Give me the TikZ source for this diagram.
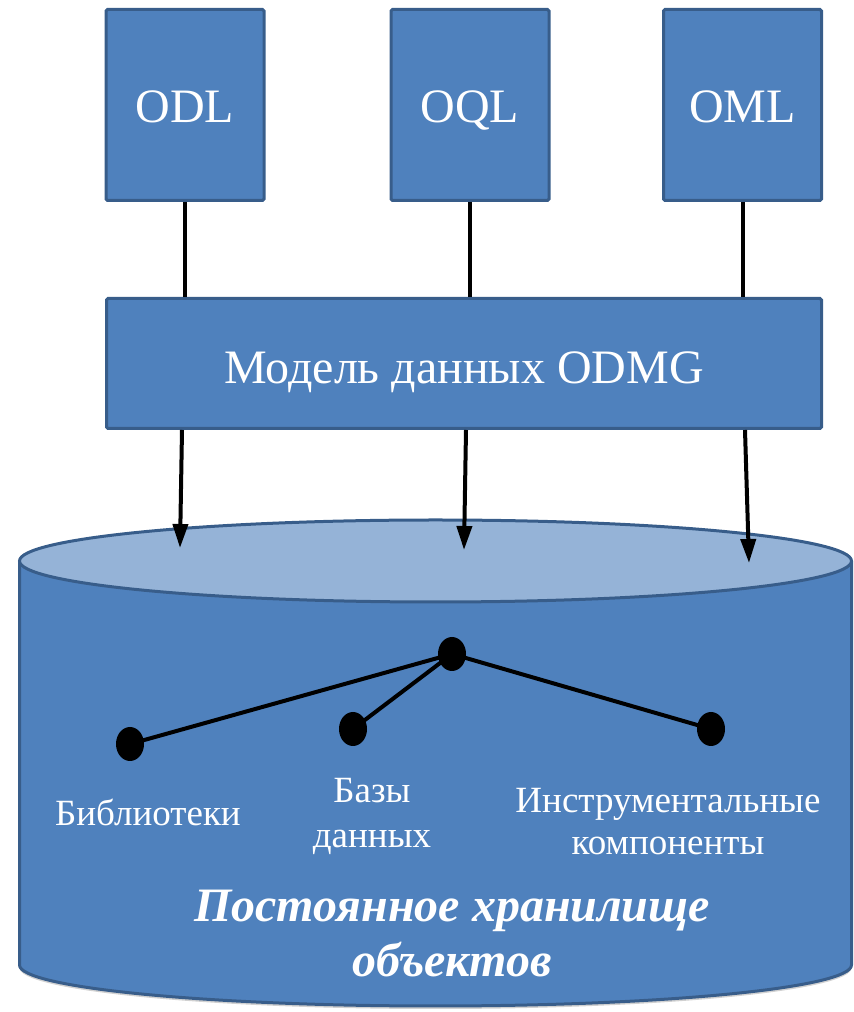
\documentclass[tikz,border=0pt]{standalone}
\usepackage{fontspec}
\setmainfont{Liberation Serif}
\usetikzlibrary{arrows.meta,shapes.geometric}
\definecolor{boxblue}{HTML}{4F81BD}
\definecolor{edgeblue}{HTML}{385D8A}
\definecolor{topblue}{HTML}{95B3D7}
\begin{document}
\begin{tikzpicture}[x=1pt,y=1pt,
  langbox/.style={draw=edgeblue, line width=3pt, fill=boxblue, rounded corners=1.5pt,
    minimum width=158pt, minimum height=191pt, text=white, inner sep=0pt,
    text height=36pt, text depth=0pt,
    font=\fontsize{48}{56}\selectfont},
  modelbox/.style={langbox, minimum width=715pt, minimum height=130pt, text height=41pt},
  link/.style={line width=4pt, black},
  flow/.style={line width=4pt, black, -{Triangle[width=15pt,length=24pt]}},
  dot/.style={ellipse, fill=black, minimum width=28pt, minimum height=34pt, inner sep=0pt},
  part/.style={text=white, align=center, inner sep=0pt, font=\fontsize{37}{44}\selectfont},
  title/.style={text=white, align=center, inner sep=0pt, font=\fontsize{48}{55}\selectfont\bfseries\itshape}
]
\useasboundingbox (0,0) rectangle (854,1012);

% boxes
\node[langbox] (odl) at (185,907) {ODL};
\node[langbox] (oql) at (470,907) {OQL};
\node[langbox] (oml) at (742.5,907) {OML};
\node[modelbox] (odmg) at (464,648.5) {Модель данных ODMG};

% cylinder
\fill[black, opacity=0.18] (19.5,448) -- (19.5,44) arc[start angle=180,end angle=360,x radius=416,y radius=41] -- (851.5,448) -- cycle;
\draw[edgeblue, line width=3pt, fill=boxblue] (19.5,451) -- (19.5,47) arc[start angle=180,end angle=360,x radius=416,y radius=41] -- (851.5,451);
\draw[edgeblue, line width=3pt, fill=topblue] (435.5,451) ellipse[x radius=416, y radius=41];

% connectors
\draw[link] (odl.south) -- (odl.south |- odmg.north);
\draw[link] (oql.south) -- (oql.south |- odmg.north);
\draw[link] (oml.south) -- (oml.south |- odmg.north);

\coordinate (s1) at (182,582);
\coordinate (s2) at (466,582);
\coordinate (s3) at (745,582);
\coordinate (t1) at (180,464);
\coordinate (t2) at (464,462);
\coordinate (t3) at (749,449);
\draw[flow] (s1) -- (t1);
\draw[flow] (s2) -- (t2);
\draw[flow] (s3) -- (t3);

% tree of parts
\node[dot] (hub) at (452,358) {};
\node[dot] (lib) at (130,268) {};
\node[dot] (db) at (353,283) {};
\node[dot] (tool) at (711,283) {};
\draw[link] (hub.center) -- (lib.center);
\draw[link] (hub.center) -- (db.center);
\draw[link] (hub.center) -- (tool.center);

\node[part, anchor=base] (liblabel) at (148,186) {Библиотеки};
\node[part, anchor=base, font=\fontsize{37}{45}\selectfont] (dblabel) at (372,164) {Базы\\данных};
\node[part, anchor=base, font=\fontsize{37}{42}\selectfont] (toollabel) at (668,157) {Инструментальные\\компоненты};
\node[title, anchor=base] (store) at (452,35) {Постоянное хранилище\\объектов};
\end{tikzpicture}
\end{document}
